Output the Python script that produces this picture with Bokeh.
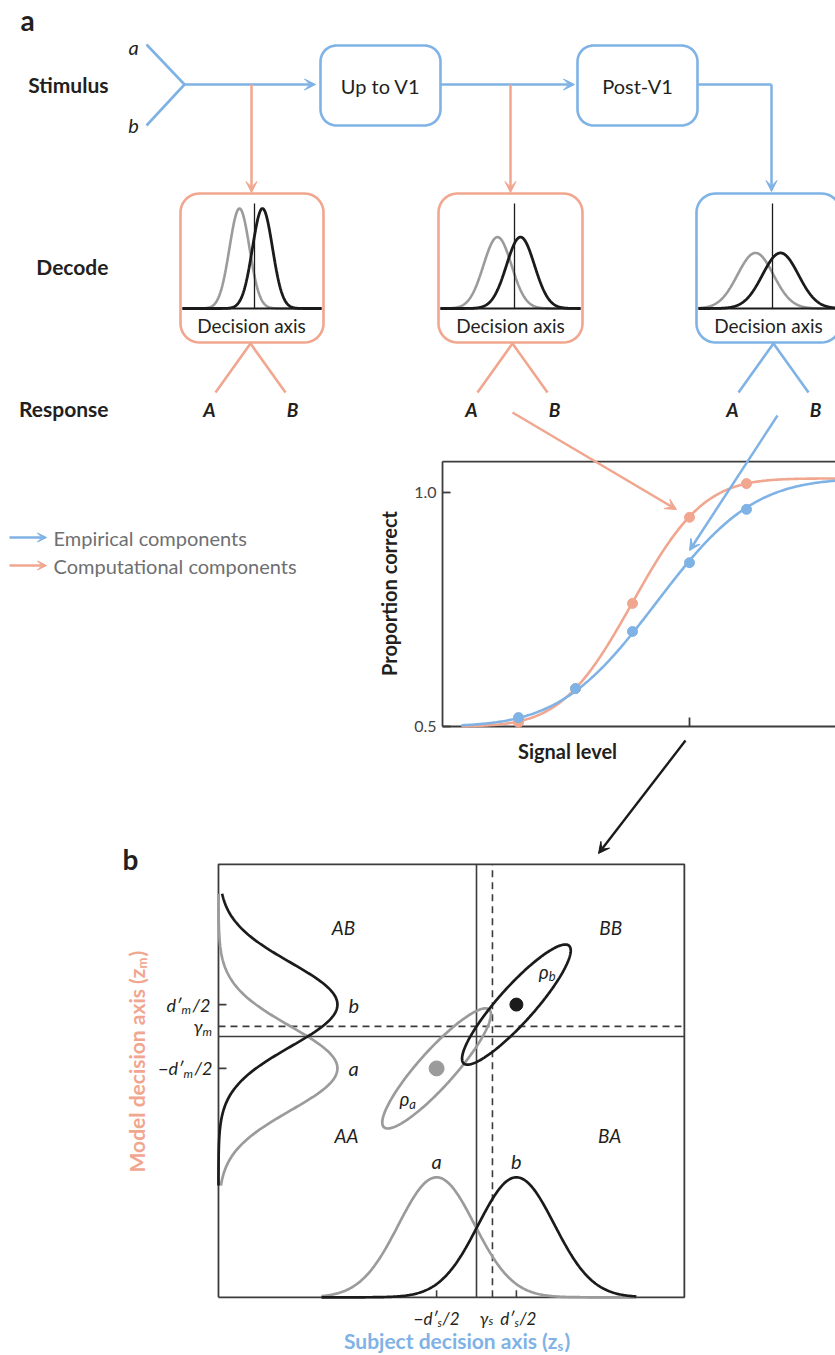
import math
import numpy as np
from bokeh.plotting import figure
from bokeh.models import Range1d, Arrow, VeeHead
from bokeh.core.properties import value
from bokeh.embed import file_html
from bokeh.resources import INLINE

# ---------------- data ----------------
# panel a : processing stages and decoders
stage_names = ["Up to V1", "Post-V1"]
row_labels = ["Stimulus", "Decode", "Response"]
decode_sigma = [1.0, 1.4, 1.8]          # decoder noise (decision-axis units)
decode_mu_a = [-1.5, -1.7, -1.7]        # mean of stimulus a relative to criterion
decode_mu_b = [0.8, 0.6, 0.8]           # mean of stimulus b relative to criterion
legend_labels = ["Empirical components", "Computational components"]

# psychometric functions
signal_levels = [1, 2, 3, 4, 5]
pc_empirical = [0.519, 0.581, 0.703, 0.850, 0.964]
pc_model = [0.509, 0.581, 0.763, 0.947, 1.019]
fit_empirical = {"mu": 3.42, "sigma": 1.33, "amp": 0.53}
fit_model = {"mu": 3.0, "sigma": 0.98, "amp": 0.53}
psy_yticks = [0.5, 1.0]
psy_yticklabels = ["0.5", "1.0"]
psy_xtick = 4

# panel b : joint decision space
d_s = 2.1        # subject d'
d_m = 1.52       # model d'
gamma_s = 0.42   # subject criterion
gamma_m = 0.24   # model criterion
rho_a = 0.90
rho_b = 0.90
contour_c = 1.43
quadrant_labels = ["AB", "BB", "AA", "BA"]

# ---------------- style ----------------
BLUE = "#7fb2e5"
ORANGE = "#f1a68f"
GRAY = "#9b9b9b"
BLACK = "#1b1b1b"
AXC = "#3c3c3c"
TXT = "#231f20"
FONT = "Lato"

W, H = 835, 1355
XA, XB, YA, YB = 0, W, 0, H

p = figure(width=W, height=H, x_range=Range1d(XA, XB), y_range=Range1d(YB, YA),
           x_axis_type=None, y_axis_type=None, toolbar_location=None,
           output_backend="svg", min_border=0, outline_line_color=None)
p.background_fill_color = "white"
p.border_fill_color = "white"


def xrange_for(X_at, u_at, k):
    return Range1d(u_at + (XA - X_at) / k, u_at + (XB - X_at) / k)


def yrange_for(Y_at, v_at, k):
    return Range1d(v_at - (YB - Y_at) / k, v_at + (Y_at - YA) / k)


crit_px = [254, 514, 772]
box_px = [(180, 323), (438, 582), (696, 840)]
DEC_K = 10.0
xr = {}
yr = {}
for i, cx in enumerate(crit_px):
    xr[f"dec{i}"] = xrange_for(cx, 0.0, DEC_K)
yr["decy"] = yrange_for(308, 0.0, 100.0)
xr["psx"] = xrange_for(518, 1.0, 57.0)
yr["psy"] = yrange_for(726, 0.5, 468.0)
xr["bzs"] = xrange_for(476, 0.0, 38.0)
yr["bzm"] = yrange_for(1036, 0.0, 42.0)
p.extra_x_ranges = xr
p.extra_y_ranges = yr


def txt(x, y, s, size=18, color=TXT, style="normal", align="center",
        baseline="middle", angle=0.0, xn="default", yn="default", xo=0, yo=0):
    p.text(x=[x], y=[y], text=[s], text_font=value(FONT),
           text_font_size=f"{size}px", text_color=color,
           text_font_style=style, text_align=align, text_baseline=baseline,
           angle=angle, x_offset=xo, y_offset=yo,
           x_range_name=xn, y_range_name=yn)


def arrow(x0, y0, x1, y1, color, width=2.5, size=11):
    p.add_layout(Arrow(end=VeeHead(size=size, fill_color=color, line_color=color,
                                   line_width=1),
                       x_start=x0, y_start=y0, x_end=x1, y_end=y1,
                       line_color=color, line_width=width))


def rrect(x0, y0, x1, y1, r, color, width=2.6):
    xs, ys = [], []
    corners = [(x1 - r, y0 + r, -math.pi / 2, 0.0),
               (x1 - r, y1 - r, 0.0, math.pi / 2),
               (x0 + r, y1 - r, math.pi / 2, math.pi),
               (x0 + r, y0 + r, math.pi, 1.5 * math.pi)]
    for cx, cy, a0, a1 in corners:
        for t in np.linspace(a0, a1, 12):
            xs.append(cx + r * math.cos(t))
            ys.append(cy + r * math.sin(t))
    xs.append(xs[0])
    ys.append(ys[0])
    p.line(xs, ys, line_color=color, line_width=width, line_join="round")


erf = np.vectorize(math.erf)


def Phi(z):
    return 0.5 * (1.0 + erf(z / math.sqrt(2.0)))


# ---------------- panel a ----------------
txt(27, 19, "a", size=28, style="bold")
for lab, yy in zip(row_labels, [84, 266, 408]):
    txt(108, yy, lab, size=21, style="bold", align="right")

# stimulus fork
p.line([146, 184, 146], [44, 84, 125], line_color=BLUE, line_width=2.6)
txt(133, 46, "a", size=20, style="italic")
txt(133, 124, "b", size=20, style="italic")
arrow(184, 84, 315, 84, BLUE)
rrect(320, 45, 440, 125, 16, BLUE)
txt(380, 85, stage_names[0], size=20)
arrow(440, 84, 574, 84, BLUE)
rrect(577, 45, 697, 125, 16, BLUE)
txt(637, 85, stage_names[1], size=20)
p.line([697, 771], [84, 84], line_color=BLUE, line_width=2.6)
arrow(771, 84, 771, 191, BLUE)
arrow(251, 84, 251, 192, ORANGE)
arrow(510, 84, 510, 192, ORANGE)

# decoders
box_cols = [ORANGE, ORANGE, BLUE]
for i in range(3):
    bx0, bx1 = box_px[i]
    rrect(bx0, 193, bx1, 342, 19, box_cols[i])
    name = f"dec{i}"
    u = np.linspace((bx0 + 2 - crit_px[i]) / DEC_K, (bx1 - 2 - crit_px[i]) / DEC_K, 300)
    s = decode_sigma[i]
    va = np.exp(-(u - decode_mu_a[i]) ** 2 / (2 * s * s)) / s
    vb = np.exp(-(u - decode_mu_b[i]) ** 2 / (2 * s * s)) / s
    p.line(u, va, line_color=GRAY, line_width=2.6, x_range_name=name, y_range_name="decy")
    p.line(u, vb, line_color=BLACK, line_width=2.8, x_range_name=name, y_range_name="decy")
    p.line([u[0], u[-1]], [0, 0], line_color=BLACK, line_width=1.8,
           x_range_name=name, y_range_name="decy")
    p.line([0, 0], [0, 1.05], line_color=BLACK, line_width=1.3,
           x_range_name=name, y_range_name="decy")
    cxm = [251, 510, 768][i]
    txt(cxm, 325, "Decision axis", size=19)
    # response fork
    rc = [250, 512, 773][i]
    p.line([rc - 35, rc, rc + 35], [392, 343, 392], line_color=box_cols[i], line_width=2.6)
    txt(rc - 41, 409, "A", size=19, style="bold italic")
    txt(rc + 42, 409, "B", size=19, style="bold italic")

# legend
for lab, col, yy in zip(legend_labels, [BLUE, ORANGE], [537, 565]):
    arrow(9, yy, 46, yy, col, size=9)
    txt(53, yy, lab, size=20, color="#6e6f72", align="left")

# ---------------- psychometric panel ----------------
PX0 = -0.333
PY1 = 1.066
PS = dict(x_range_name="psx", y_range_name="psy")
p.line([PX0, PX0], [0.5, PY1], line_color=AXC, line_width=1.8, **PS)
p.line([PX0, 8.0], [PY1, PY1], line_color=AXC, line_width=1.8, **PS)
p.line([PX0, 8.0], [0.5, 0.5], line_color=AXC, line_width=1.8, **PS)
for tv, tl in zip(psy_yticks, psy_yticklabels):
    p.line([PX0, PX0 + 8 / 57], [tv, tv], line_color=AXC, line_width=1.8, **PS)
    txt(PX0, tv, tl, size=16, color="#444", align="right", xn="psx", yn="psy", xo=-6)
p.line([psy_xtick, psy_xtick], [0.5, 0.5 + 9 / 468], line_color=AXC, line_width=1.8, **PS)

lv = np.linspace(0.0, 7.5, 300)
for fit, pts, col in [(fit_model, pc_model, ORANGE), (fit_empirical, pc_empirical, BLUE)]:
    curve = 0.5 + fit["amp"] * Phi((lv - fit["mu"]) / fit["sigma"])
    p.line(lv, curve, line_color=col, line_width=2.6, **PS)
    p.scatter(signal_levels, pts, size=10, fill_color=col, line_color=col, **PS)

txt(388, 593, "Proportion correct", size=20, style="bold", angle=math.pi / 2)
txt(567, 750, "Signal level", size=20, style="bold")

arrow(512, 412, 676, 509, ORANGE)
arrow(777, 415, 689, 550, BLUE)
arrow(685, 740, 598, 853, BLACK, width=2.4)

# ---------------- panel b ----------------
BS = dict(x_range_name="bzs", y_range_name="bzm")
ZL, ZR = -6.79, 5.47
ZB, ZT = -6.21, 4.10
txt(130, 858, "b", size=28, style="bold")
p.line([ZL, ZR, ZR, ZL, ZL], [ZB, ZB, ZT, ZT, ZB], line_color=AXC, line_width=1.8, **BS)
p.line([0, 0], [ZB, ZT], line_color=AXC, line_width=1.6, **BS)
p.line([ZL, ZR], [0, 0], line_color=AXC, line_width=1.6, **BS)
p.line([gamma_s, gamma_s], [ZB, ZT], line_color=AXC, line_width=1.6, line_dash="7 5", **BS)
p.line([ZL, ZR], [gamma_m, gamma_m], line_color=AXC, line_width=1.6, line_dash="7 5", **BS)

# marginal on model axis (left)
AMP_L = 3.13
zm = np.linspace(-3.55, 3.40, 300)
for mu, col in [(-d_m / 2, GRAY), (d_m / 2, BLACK)]:
    p.line(ZL + AMP_L * np.exp(-(zm - mu) ** 2 / 2), zm, line_color=col, line_width=2.7, **BS)
# marginal on subject axis (bottom)
AMP_B = 2.857
zs = np.linspace(-4.08, 4.21, 300)
for mu, col in [(-d_s / 2, GRAY), (d_s / 2, BLACK)]:
    p.line(zs, ZB + AMP_B * np.exp(-(zs - mu) ** 2 / 2), line_color=col, line_width=2.7, **BS)

# bivariate contours
t = np.linspace(0, 2 * np.pi, 200)
for (mx, my), rho, col, dsz in [((-d_s / 2, -d_m / 2), rho_a, GRAY, 15),
                               ((d_s / 2, d_m / 2), rho_b, BLACK, 13)]:
    ex = mx + contour_c * np.cos(t)
    ey = my + contour_c * (rho * np.cos(t) + math.sqrt(1 - rho * rho) * np.sin(t))
    p.line(ex, ey, line_color=col, line_width=2.7, **BS)
    p.scatter([mx], [my], size=dsz, fill_color=col, line_color=col, **BS)

# ticks
for mu in (-d_m / 2, d_m / 2):
    p.line([ZL, ZL + 8 / 38], [mu, mu], line_color=AXC, line_width=1.6, **BS)
for mu in (-d_s / 2, d_s / 2):
    p.line([mu, mu], [ZB, ZB + 7 / 42], line_color=AXC, line_width=1.6, **BS)

# quadrant labels
for lab, (qx, qy) in zip(quadrant_labels, [(-3.5, 2.6), (3.53, 2.6), (-3.42, -2.36), (3.5, -2.36)]):
    txt(qx, qy, lab, size=19, style="italic", xn="bzs", yn="bzm")
# marginal labels
txt(ZL + AMP_L, d_m / 2, "b", size=20, style="italic", align="left", xn="bzs", yn="bzm", xo=11)
txt(ZL + AMP_L, -d_m / 2, "a", size=20, style="italic", align="left", xn="bzs", yn="bzm", xo=11)
txt(-d_s / 2, ZB + AMP_B, "a", size=20, style="italic", xn="bzs", yn="bzm", yo=-16)
txt(d_s / 2, ZB + AMP_B, "b", size=20, style="italic", xn="bzs", yn="bzm", yo=-16)
# correlation labels
txt(-1.82, -1.48, "ρ", size=19, style="italic", align="right", xn="bzs", yn="bzm", xo=2)
txt(-1.82, -1.48, "a", size=13, style="italic", align="left", xn="bzs", yn="bzm", xo=2, yo=5)
txt(1.85, 1.55, "ρ", size=19, style="italic", align="right", xn="bzs", yn="bzm", xo=2)
txt(1.85, 1.55, "b", size=13, style="italic", align="left", xn="bzs", yn="bzm", xo=2, yo=5)

# left tick labels
TL = dict(xn="bzs", yn="bzm")
txt(ZL, d_m / 2, "d′", size=18, style="italic", align="right", xo=-37, **TL)
txt(ZL, d_m / 2, "m", size=12, style="italic", align="left", xo=-37, yo=5, **TL)
txt(ZL, d_m / 2, "/2", size=18, style="italic", align="left", xo=-26, **TL)
txt(ZL, -d_m / 2, "−d′", size=18, style="italic", align="right", xo=-35, **TL)
txt(ZL, -d_m / 2, "m", size=12, style="italic", align="left", xo=-35, yo=5, **TL)
txt(ZL, -d_m / 2, "/2", size=18, style="italic", align="left", xo=-24, **TL)
txt(ZL, gamma_m, "γ", size=18, style="italic", align="right", xo=-16, **TL)
txt(ZL, gamma_m, "m", size=12, style="italic", align="left", xo=-16, yo=5, **TL)
# bottom tick labels
txt(-d_s / 2, ZB, "−d′", size=17, style="italic", align="right", xo=1, yo=21, **TL)
txt(-d_s / 2, ZB, "s", size=11, style="italic", align="left", xo=1, yo=25, **TL)
txt(-d_s / 2, ZB, "/2", size=17, style="italic", align="left", xo=6, yo=21, **TL)
txt(gamma_s, ZB, "γ", size=17, style="italic", align="right", xo=-4, yo=21, **TL)
txt(gamma_s, ZB, "s", size=12, style="italic", align="left", xo=-4, yo=23, **TL)
txt(d_s / 2, ZB, "d′", size=17, style="italic", align="right", xo=-2, yo=21, **TL)
txt(d_s / 2, ZB, "s", size=11, style="italic", align="left", xo=-2, yo=25, **TL)
txt(d_s / 2, ZB, "/2", size=17, style="italic", align="left", xo=3, yo=21, **TL)

# axis titles
txt(557, 1340, "Subject decision axis (z", size=21, style="bold", color=BLUE, align="right")
txt(557, 1345, "s", size=13, style="bold", color=BLUE, align="left")
txt(564, 1340, ")", size=21, style="bold", color=BLUE, align="left")
txt(136, 968, "Model decision axis (z", size=21, style="bold", color=ORANGE, align="right",
    angle=math.pi / 2)
txt(141, 968, "m", size=13, style="bold", color=ORANGE, align="left", angle=math.pi / 2)
txt(136, 956, ")", size=21, style="bold", color=ORANGE, align="left", angle=math.pi / 2)

open("out.html", "w").write(file_html(p, INLINE))
